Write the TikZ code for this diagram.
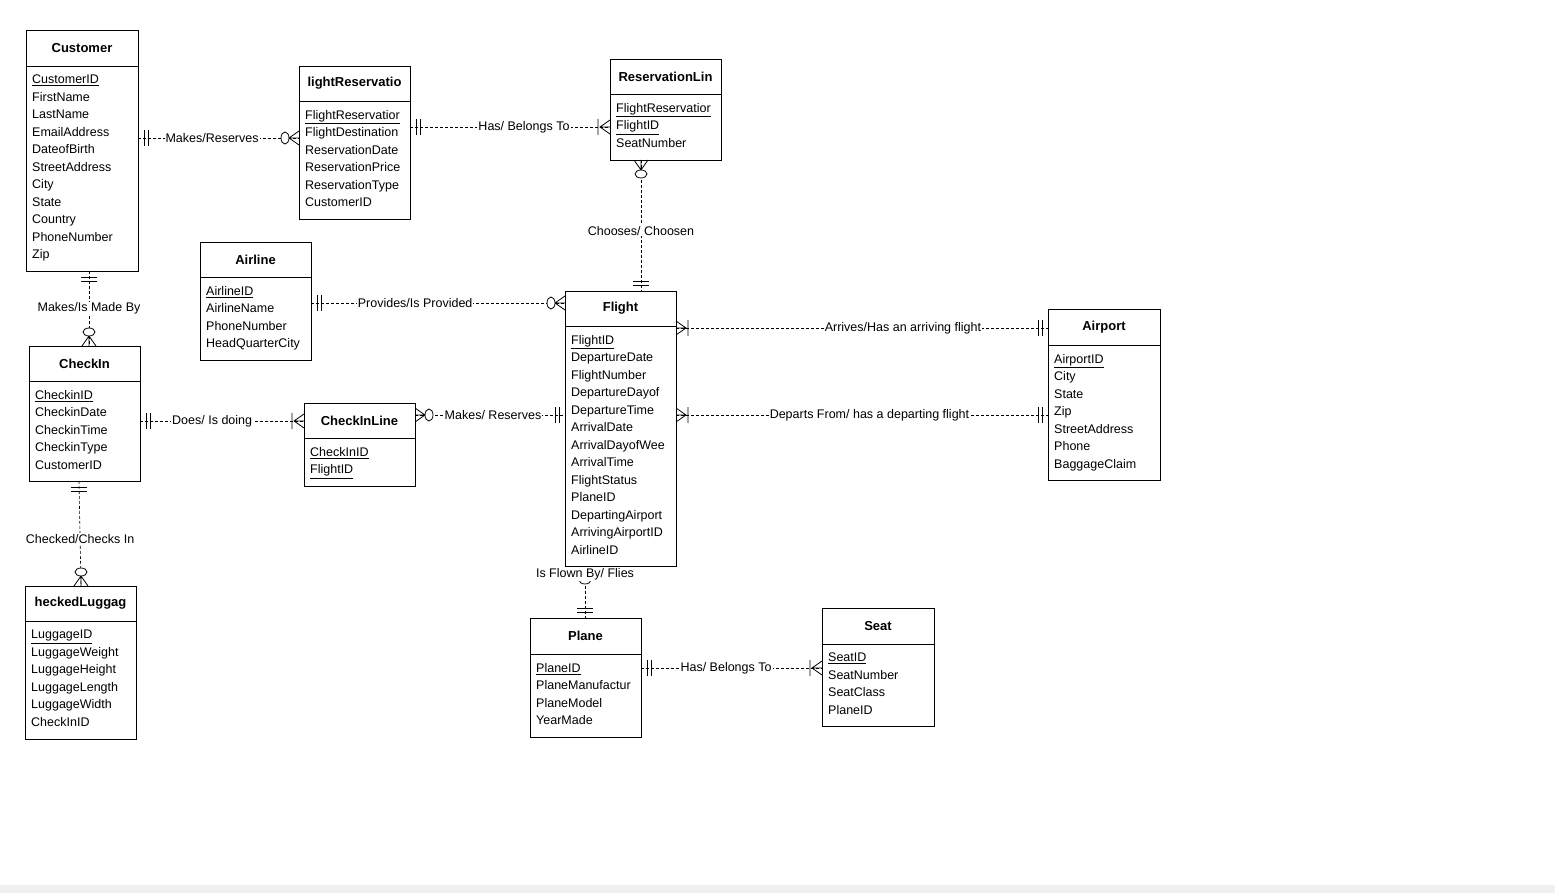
\documentclass[tikz,border=0pt]{standalone}
\usepackage{fontspec}
\setmainfont{Liberation Sans}
\begin{document}
\begin{tikzpicture}[x=1pt,y=-1pt,
  box/.style={draw,line width=0.9pt,inner sep=0,anchor=north west},
  ttl/.style={font=\fontsize{13}{15}\selectfont\bfseries,anchor=center},
  att/.style={font=\fontsize{12.5}{17.5}\selectfont,anchor=north west,align=left,inner sep=0},
  rel/.style={densely dashed,line width=0.6pt},
  lbl/.style={fill=white,font=\fontsize{12.5}{14}\selectfont,inner sep=1pt},
  mk/.style={line width=0.8pt}]
\useasboundingbox (0,0) rectangle (1555,893);
\fill[black!6] (0,885) rectangle (1555,893);
\newcommand\ent[8]{%
  \node[box,minimum width=#4pt,minimum height={(#6-#3)*1pt}] (#1) at (#2,#3) {};
  \draw[line width=0.9pt] (#2,#5) -- ++(#4,0);
  \node[ttl] at ({#2+#4/2},{(#3+#5)/2}) {#7};
  \node[att] at ({#2+6},{#5+9}) {#8};}
\newcommand\ul[1]{\underline{#1}}
\newcommand\mand[3]{\begin{scope}[shift={(#1,#2)},rotate=#3,mk]
  \draw (6,-8)--(6,8) (10,-8)--(10,8);\end{scope}}
\newcommand\zmany[3]{\begin{scope}[shift={(#1,#2)},rotate=#3,mk]
  \draw (0,-7)--(10,0)--(0,7) (0,0)--(10,0); \draw[fill=white] (14,0) ellipse (4 and 6);\end{scope}}
\newcommand\omany[3]{\begin{scope}[shift={(#1,#2)},rotate=#3,mk]
  \draw (0,-7)--(10,0)--(0,7) (0,0)--(10,0) (12,-8)--(12,8);\end{scope}}

\ent{cust}{26}{30}{112}{66}{271}{Customer}{\ul{CustomerID}\\FirstName\\LastName\\EmailAddress\\DateofBirth\\StreetAddress\\City\\State\\Country\\PhoneNumber\\Zip}
\ent{fres}{299}{66}{111}{101}{219}{lightReservatio}{\ul{FlightReservatior}\\FlightDestination\\ReservationDate\\ReservationPrice\\ReservationType\\CustomerID}
\ent{rline}{610}{59}{111}{94}{160}{ReservationLin}{\ul{FlightReservatior}\\\ul{FlightID}\\SeatNumber}
\ent{airl}{200}{242}{111}{277}{360}{Airline}{\ul{AirlineID}\\AirlineName\\PhoneNumber\\HeadQuarterCity}
\ent{flt}{565}{291}{111}{326}{566}{Flight}{\ul{FlightID}\\DepartureDate\\FlightNumber\\DepartureDayof\\DepartureTime\\ArrivalDate\\ArrivalDayofWee\\ArrivalTime\\FlightStatus\\PlaneID\\DepartingAirport\\ArrivingAirportID\\AirlineID}
\ent{apt}{1048}{309}{112}{345}{480}{Airport}{\ul{AirportID}\\City\\State\\Zip\\StreetAddress\\Phone\\BaggageClaim}
\ent{chk}{29}{346}{111}{381}{481}{CheckIn}{\ul{CheckinID}\\CheckinDate\\CheckinTime\\CheckinType\\CustomerID}
\ent{cil}{304}{403}{111}{438}{486}{CheckInLine}{\ul{CheckInID}\\\ul{FlightID}}
\ent{lug}{25}{586}{111}{621}{739}{heckedLuggag}{\ul{LuggageID}\\LuggageWeight\\LuggageHeight\\LuggageLength\\LuggageWidth\\CheckInID}
\ent{pln}{530}{618}{111}{654}{737}{Plane}{\ul{PlaneID}\\PlaneManufactur\\PlaneModel\\YearMade}
\ent{seat}{822}{608}{112}{644}{726}{Seat}{\ul{SeatID}\\SeatNumber\\SeatClass\\PlaneID}

\coordinate (c1a) at (138,138); \coordinate (c1b) at (299,138);
\coordinate (c2a) at (410,127); \coordinate (c2b) at (610,127);
\coordinate (c3a) at (641,160); \coordinate (c3b) at (641,291);
\coordinate (c4a) at (311,303); \coordinate (c4b) at (565,303);
\coordinate (c5a) at (676,328); \coordinate (c5b) at (1048,328);
\coordinate (c6a) at (676,415); \coordinate (c6b) at (1048,415);
\coordinate (c7a) at (415,415); \coordinate (c7b) at (565,415);
\coordinate (c8a) at (140,421); \coordinate (c8b) at (304,421);
\coordinate (c9a) at (89,271); \coordinate (c9b) at (89,346);
\coordinate (c10a) at (79,481); \coordinate (c10b) at (81,586);
\coordinate (c11a) at (585,566); \coordinate (c11b) at (585,618);
\coordinate (c12a) at (641,668); \coordinate (c12b) at (822,668);

\draw[rel] (c1a) -- node[lbl,pos=0.46]{Makes/Reserves} (c1b);
\draw[rel] (c2a) -- node[lbl,pos=0.57]{Has/ Belongs To} (c2b);
\draw[rel] (c3a) -- node[lbl,pos=0.54]{Chooses/ Choosen} (c3b);
\draw[rel] (c4a) -- node[lbl,pos=0.41]{Provides/Is Provided} (c4b);
\draw[rel] (c5a) -- node[lbl,pos=0.61]{Arrives/Has an arriving flight} (c5b);
\draw[rel] (c6a) -- node[lbl,pos=0.52]{Departs From/ has a departing flight} (c6b);
\draw[rel] (c7a) -- node[lbl,pos=0.52]{Makes/ Reserves} (c7b);
\draw[rel] (c8a) -- node[lbl,pos=0.44]{Does/ Is doing} (c8b);
\draw[rel] (c9a) -- node[lbl,pos=0.5]{Makes/Is Made By} (c9b);
\draw[rel] (c10a) -- node[lbl,pos=0.55]{Checked/Checks In} (c10b);
\draw[rel] (c11a) -- (c11b);
\draw[rel] (c12a) -- node[lbl,pos=0.47]{Has/ Belongs To} (c12b);

\mand{138}{138}{0} \zmany{299}{138}{180}
\mand{410}{127}{0} \omany{610}{127}{180}
\zmany{641}{160}{-90} \mand{641}{291}{90}
\mand{311}{303}{0} \zmany{565}{303}{180}
\omany{676}{328}{0} \mand{1048}{328}{180}
\omany{676}{415}{0} \mand{1048}{415}{180}
\zmany{415}{415}{0} \mand{565}{415}{180}
\mand{140}{421}{0} \omany{304}{421}{180}
\mand{89}{271}{-90} \zmany{89}{346}{90}
\mand{79}{481}{-90} \zmany{81}{586}{90}
\zmany{585}{566}{-90} \mand{585}{618}{90}
\mand{641}{668}{0} \omany{822}{668}{180}
\node[lbl] at (585,574) {Is Flown By/ Flies};
\end{tikzpicture}
\end{document}
